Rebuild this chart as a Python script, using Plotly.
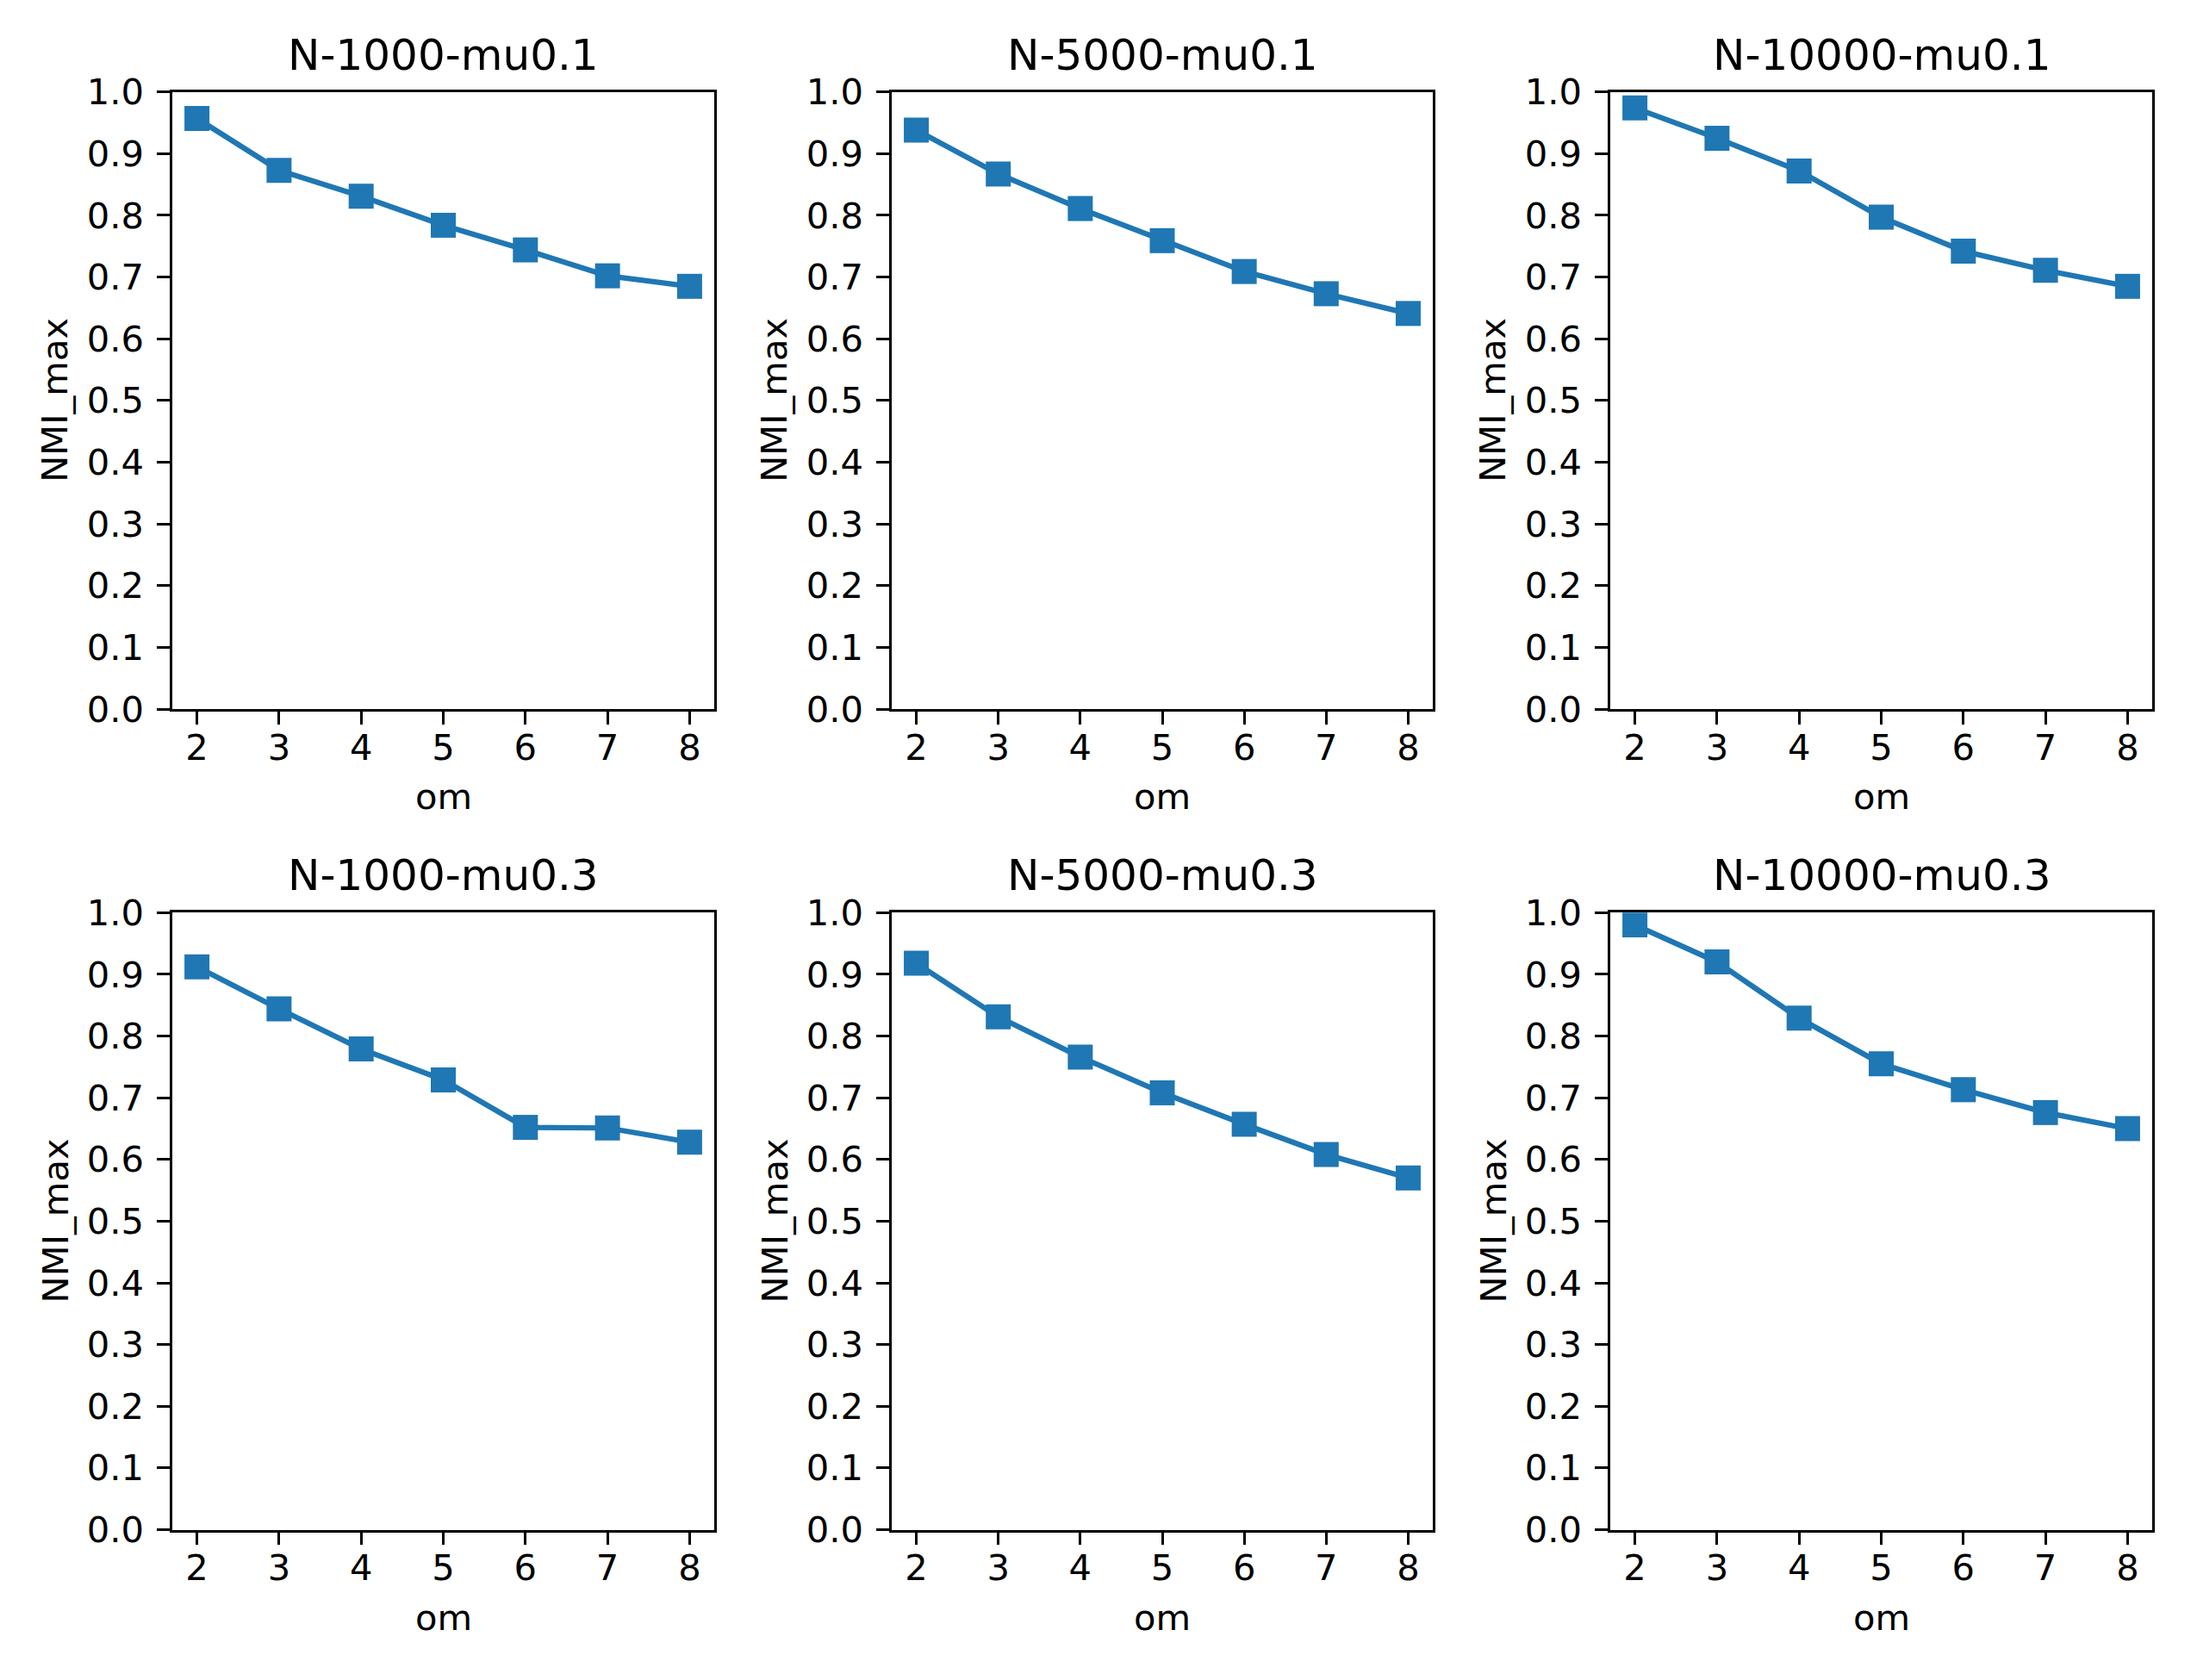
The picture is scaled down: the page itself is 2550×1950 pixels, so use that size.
import plotly.graph_objects as go

om = [2, 3, 4, 5, 6, 7, 8]

titles = ["N-1000-mu0.1", "N-5000-mu0.1", "N-10000-mu0.1",
          "N-1000-mu0.3", "N-5000-mu0.3", "N-10000-mu0.3"]

nmi_n1000_mu01 = [0.957, 0.873, 0.831, 0.784, 0.744, 0.702, 0.685]
nmi_n5000_mu01 = [0.938, 0.867, 0.811, 0.759, 0.709, 0.673, 0.641]
nmi_n10000_mu01 = [0.974, 0.925, 0.872, 0.797, 0.742, 0.711, 0.685]
nmi_n1000_mu03 = [0.912, 0.844, 0.779, 0.729, 0.652, 0.651, 0.628]
nmi_n5000_mu03 = [0.918, 0.831, 0.766, 0.708, 0.657, 0.608, 0.570]
nmi_n10000_mu03 = [0.980, 0.920, 0.829, 0.755, 0.713, 0.676, 0.650]

series = [nmi_n1000_mu01, nmi_n5000_mu01, nmi_n10000_mu01,
          nmi_n1000_mu03, nmi_n5000_mu03, nmi_n10000_mu03]

y_ticks = [0.0, 0.1, 0.2, 0.3, 0.4, 0.5, 0.6, 0.7, 0.8, 0.9, 1.0]
x_label = "om"
y_label = "NMI_max"

W, H = 2550, 1950
col_px = [(200, 829), (1035, 1663), (1869, 2498)]
row_px = [(106.7, 823), (1059.3, 1775.5)]

FONT = "DejaVu Sans"
TICK_PX = 41.67
TITLE_PX = 50
LW = 3.33
COLOR = "#1f77b4"

fig = go.Figure()
annotations = []

for i, (title, vals) in enumerate(zip(titles, series)):
    r, c = divmod(i, 3)
    x0, x1 = col_px[c]
    t0, t1 = row_px[r]
    xd = [x0 / W, x1 / W]
    yd = [1 - t1 / H, 1 - t0 / H]
    n = i + 1
    xa = "x" if n == 1 else f"x{n}"
    ya = "y" if n == 1 else f"y{n}"
    fig.add_trace(go.Scatter(
        x=om, y=vals, mode="lines+markers", xaxis=xa, yaxis=ya,
        line=dict(color=COLOR, width=6.25),
        marker=dict(symbol="square", size=29, color=COLOR, line=dict(width=0)),
        showlegend=False, hoverinfo="skip",
    ))
    common = dict(
        showline=True, linecolor="black", linewidth=LW, mirror=True,
        ticks="outside", ticklen=14.6, tickwidth=LW, tickcolor="black",
        showgrid=False, zeroline=False,
        tickfont=dict(family=FONT, size=TICK_PX, color="black"),
        automargin=False, fixedrange=True,
    )
    fig.update_layout(**{
        ("xaxis" if n == 1 else f"xaxis{n}"): dict(
            domain=xd, range=[1.7, 8.3], tickmode="array", tickvals=om,
            ticktext=[str(v) for v in om], anchor=ya, ticklabelstandoff=-9, **common),
        ("yaxis" if n == 1 else f"yaxis{n}"): dict(
            domain=yd, range=[0, 1], tickmode="array", tickvals=y_ticks,
            ticktext=[f"{v:.1f}" for v in y_ticks], anchor=xa, ticklabelstandoff=7, **common),
    })
    cx = (x0 + x1) / 2 / W
    # subplot title
    annotations.append(dict(
        text=title, x=cx, y=1 - t0 / H, xref="paper", yref="paper",
        xanchor="center", yanchor="bottom", yshift=12, showarrow=False,
        font=dict(family=FONT, size=TITLE_PX, color="black")))
    # x label
    annotations.append(dict(
        text=x_label, x=cx, y=1 - t1 / H, xref="paper", yref="paper",
        xanchor="center", yanchor="top", yshift=-75, showarrow=False,
        font=dict(family=FONT, size=TICK_PX, color="black")))
    # y label
    annotations.append(dict(
        text=y_label, x=(x0 - 136) / W, y=1 - (t0 + t1) / 2 / H,
        xref="paper", yref="paper", xanchor="center", yanchor="middle",
        textangle=-90, showarrow=False,
        font=dict(family=FONT, size=TICK_PX, color="black")))

fig.update_layout(
    width=W, height=H, margin=dict(l=0, r=0, t=0, b=0),
    paper_bgcolor="white", plot_bgcolor="white",
    annotations=annotations, showlegend=False,
)

fig.write_html("out.html", config={"displayModeBar": False},
               post_script="document.body.style.margin='0';")
